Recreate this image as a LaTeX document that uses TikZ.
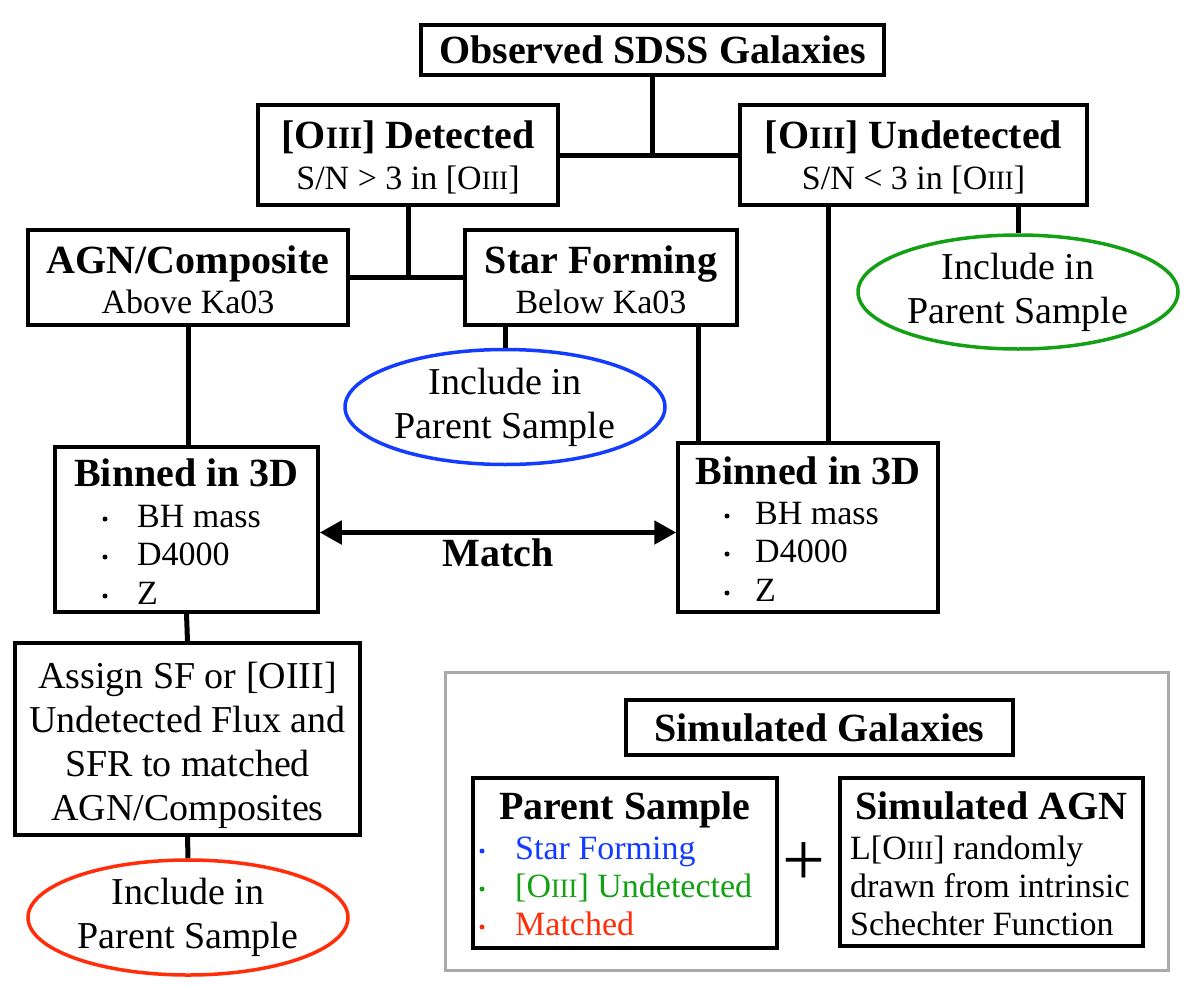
\documentclass[tikz,border=0pt]{standalone}
\usepackage{fontspec}
\setmainfont{Liberation Serif}
\usepackage{graphicx}
\usetikzlibrary{shapes.geometric,arrows.meta,calc}
\definecolor{cblue}{RGB}{20,60,255}
\definecolor{cgreen}{RGB}{20,160,20}
\definecolor{cred}{RGB}{255,45,10}
\definecolor{cgray}{RGB}{170,170,170}
\newcommand{\Osc}{O\scalebox{0.78}{III}}
\tikzset{
  box/.style={draw, line width=3.5pt, fill=white, inner sep=0pt},
  oval/.style={ellipse, line width=3.5pt, fill=white, inner sep=0pt, align=center,
    font=\fontsize{38}{44}\selectfont},
  conn/.style={line width=5pt},
  head/.style={font=\fontsize{40}{44}\selectfont\bfseries, inner sep=0pt, anchor=base},
  sub/.style={font=\fontsize{34}{38}\selectfont, inner sep=0pt, anchor=base},
  item/.style={font=\fontsize{34}{38}\selectfont, inner sep=0pt, anchor=base west},
  dot/.style={circle, fill, inner sep=0pt, minimum size=5pt},
}
\begin{document}
\begin{tikzpicture}[x=1pt,y=-1pt]
\useasboundingbox (0,0) rectangle (1188,990);
% gray frame
\draw[cgray, line width=3pt] (445,672) rectangle (1168,970);

% boxes
\node[box, minimum width=463pt, minimum height=50pt] (obs) at (652.5,50) {};
\node[head] (obsT) at (652.5,63.5) {Observed SDSS Galaxies};

\node[box, minimum width=300pt, minimum height=100pt] (det) at (408,155) {};
\node[head] (detT) at (408,148.5) {[\Osc] Detected};
\node[sub] (detS) at (408,189.5) {S/N > 3 in [\Osc]};

\node[box, minimum width=347pt, minimum height=100pt] (und) at (913.5,155) {};
\node[head] (undT) at (913.5,148.5) {[\Osc] Undetected};
\node[sub] (undS) at (913.5,189.5) {S/N < 3 in [\Osc]};

\node[box, minimum width=320pt, minimum height=95pt] (agn) at (188,277.5) {};
\node[head] (agnT) at (188,273.5) {AGN/Composite};
\node[sub] (agnS) at (188,313.5) {Above Ka03};

\node[box, minimum width=272pt, minimum height=95pt] (sf) at (601,277.5) {};
\node[head] (sfT) at (601,273.5) {Star Forming};
\node[sub] (sfS) at (601,313.5) {Below Ka03};

\node[oval, draw=cblue, minimum width=320pt, minimum height=115pt] (ellB) at (505,407)
  {Include in\\Parent Sample};
\node[oval, draw=cgreen, minimum width=320pt, minimum height=114pt] (ellG) at (1018,292)
  {Include in\\Parent Sample};

% binned boxes
\node[box, minimum width=263pt, minimum height=165pt] (binL) at (186.5,529.5) {};
\node[head] (binLT) at (186.5,486.5) {Binned in 3D};
\node[dot] (bL1) at (105,519) {};
\node[item] (iL1) at (137,527.5) {BH mass};
\node[dot] (bL2) at (105,557) {};
\node[item] (iL2) at (137,565.5) {D4000};
\node[dot] (bL3) at (105,596) {};
\node[item] (iL3) at (137,604.5) {Z};

\node[box, minimum width=260pt, minimum height=169pt] (binR) at (808,527.5) {};
\node[head] (binRT) at (808,484.5) {Binned in 3D};
\node[dot] (bR1) at (727,516) {};
\node[item] (iR1) at (755,524.5) {BH mass};
\node[dot] (bR2) at (727,554) {};
\node[item] (iR2) at (755,562.5) {D4000};
\node[dot] (bR3) at (727,593) {};
\node[item] (iR3) at (755,601.5) {Z};

\node[box, minimum width=345pt, minimum height=192pt] (assign) at (187.5,739) {};
\node[align=center, inner sep=0pt, font=\fontsize{38}{44}\selectfont] (assignT) at (187.5,745)
  {Assign SF or [OIII]\\Undetected Flux and\\SFR to matched\\AGN/Composites};

\node[oval, draw=cred, minimum width=320pt, minimum height=115pt] (ellR) at (188,917.5)
  {Include in\\Parent Sample};

% simulated section
\node[box, minimum width=387pt, minimum height=55pt] (simgal) at (819.5,727.5) {};
\node[head] (simgalT) at (819.5,741) {Simulated Galaxies};

\node[box, minimum width=304pt, minimum height=170pt] (parent) at (625,863) {};
\node[head] (parentT) at (625,819.5) {Parent Sample};
\node[dot, cblue] (pb1) at (482,851) {};
\node[item, cblue] (pi1) at (515,859.5) {Star Forming};
\node[dot, cgreen] (pb2) at (482,889) {};
\node[item, cgreen] (pi2) at (515,897.5) {[\Osc] Undetected};
\node[dot, cred] (pb3) at (482,927) {};
\node[item, cred] (pi3) at (515,935.5) {Matched};

\node[inner sep=0pt, font=\fontsize{76}{76}\selectfont] (plus) at (804,864) {+};

\node[box, minimum width=303pt, minimum height=168pt] (simagn) at (991.5,862) {};
\node[head] (simagnT) at (991.5,819.5) {Simulated AGN};
\node[item] (sa1) at (850,859.5) {L[\Osc] randomly};
\node[item] (sa2) at (850,897.5) {drawn from intrinsic};
\node[item] (sa3) at (850,935.5) {Schechter Function};

% connectors
\begin{scope}[conn]
\draw (det.east) -- (und.west);
\draw (obs.south) -- (obs.south |- det.east);
\draw (agn.east) -- (sf.west);
\draw (det.south) -- (det.south |- agn.east);
\draw (ellB.north |- sf.south) -- (ellB.north);
\coordinate (sfR) at ($(sf.south east)+(-40,0)$);
\draw (sfR) -- (sfR |- binR.north);
\coordinate (undL) at ($(und.south west)+(90,0)$);
\draw (undL) -- (undL |- binR.north);
\draw (ellG.north |- und.south) -- (ellG.north);
\draw (agn.south) -- (agn.south |- binL.north);
\draw (binL.south) -- (assign.north);
\draw (assign.south) -- (ellR.north);
\coordinate (mL) at ($(binL.east)+(0,3)$);
\draw[{Triangle[length=22pt,width=23pt]}-{Triangle[length=22pt,width=23pt]}] (mL) -- (mL -| binR.west);
\end{scope}
\node[head] (match) at (498,566) {Match};
\end{tikzpicture}
\end{document}
